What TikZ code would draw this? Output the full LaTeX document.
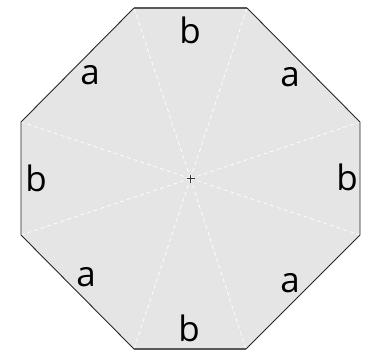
\documentclass[tikz,border=0pt]{standalone}
\usepackage{fontspec}
\setmainfont{Open Sans}
\begin{document}
\begin{tikzpicture}[x=1pt,y=-1pt,
  lbl/.style={inner sep=0pt,font=\fontsize{35}{35}\selectfont},
  spoke/.style={white,line width=0.7pt,dash pattern=on 4pt off 3pt},
  edge/.style={black!85,line width=0.9pt},
  hedge/.style={black!65,line width=1.6pt}]
\useasboundingbox (0,0) rectangle (385,359);
\coordinate (A) at (134,8);
\coordinate (B) at (247,8);
\coordinate (C) at (360,122);
\coordinate (D) at (360,235);
\coordinate (E) at (246,349);
\coordinate (F) at (134,349);
\coordinate (G) at (21,235);
\coordinate (H) at (21,122);
\coordinate (O) at (190.5,178.5);
\fill[black!10] (A)--(B)--(C)--(D)--(E)--(F)--(G)--(H)--cycle;
\foreach \v in {A,B,C,D,E,F,G,H} \draw[spoke] (O)--(\v);
\draw[edge] (B)--(C)--(D)--(E);
\draw[edge] (F)--(G)--(H)--(A);
\draw[hedge] (A)--(B);
\draw[hedge] (E)--(F);
\draw[black!80,line width=0.7pt] ([xshift=-4pt]O)--([xshift=4pt]O) ([yshift=-4pt]O)--([yshift=4pt]O);
\node[lbl] (l1) at (190,30) {b};
\node[lbl] (l2) at (90,75) {a};
\node[lbl] (l3) at (290,77) {a};
\node[lbl] (l4) at (36,178) {b};
\node[lbl] (l5) at (347,177) {b};
\node[lbl] (l6) at (86,277) {a};
\node[lbl] (l7) at (290,283) {a};
\node[lbl] (l8) at (189,328) {b};
\end{tikzpicture}
\end{document}
